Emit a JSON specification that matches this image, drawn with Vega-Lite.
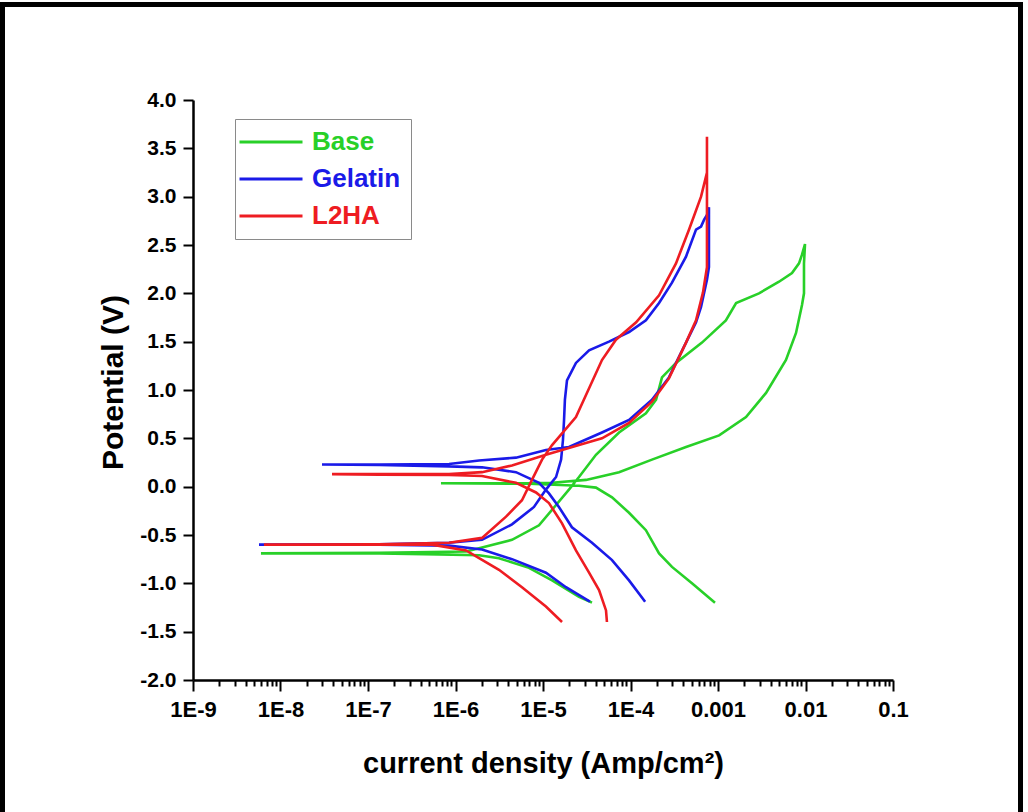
{
  "$schema": "https://vega.github.io/schema/vega-lite/v6.json",
  "width": 700,
  "height": 580,
  "autosize": {"type": "none"},
  "padding": {"left": 193, "top": 100, "right": 135, "bottom": 132},
  "background": "white",
  "config": {"view": {"stroke": null}},
  "data": {"values": [
    {"s":"Base","i":1,"x":3.63e-5,"y":-1.20},
    {"s":"Base","i":2,"x":2.58e-5,"y":-1.14},
    {"s":"Base","i":3,"x":1.27e-5,"y":-0.97},
    {"s":"Base","i":4,"x":6.92e-6,"y":-0.84},
    {"s":"Base","i":5,"x":3.14e-6,"y":-0.74},
    {"s":"Base","i":6,"x":1.86e-6,"y":-0.71},
    {"s":"Base","i":7,"x":6.48e-7,"y":-0.70},
    {"s":"Base","i":8,"x":1.34e-7,"y":-0.69},
    {"s":"Base","i":9,"x":1.63e-8,"y":-0.69},
    {"s":"Base","i":10,"x":5.98e-9,"y":-0.69},
    {"s":"Base","i":11,"x":1.34e-7,"y":-0.685},
    {"s":"Base","i":12,"x":1.32e-6,"y":-0.67},
    {"s":"Base","i":13,"x":2.01e-6,"y":-0.63},
    {"s":"Base","i":14,"x":4.42e-6,"y":-0.55},
    {"s":"Base","i":15,"x":9.0e-6,"y":-0.40},
    {"s":"Base","i":16,"x":1.41e-5,"y":-0.19},
    {"s":"Base","i":17,"x":1.98e-5,"y":-0.03},
    {"s":"Base","i":18,"x":2.58e-5,"y":0.10},
    {"s":"Base","i":19,"x":4.03e-5,"y":0.33},
    {"s":"Base","i":20,"x":7.40e-5,"y":0.56},
    {"s":"Base","i":21,"x":1.50e-4,"y":0.76},
    {"s":"Base","i":22,"x":1.96e-4,"y":0.90},
    {"s":"Base","i":23,"x":2.29e-4,"y":1.13},
    {"s":"Base","i":24,"x":3.31e-4,"y":1.28},
    {"s":"Base","i":25,"x":6.56e-4,"y":1.49},
    {"s":"Base","i":26,"x":1.23e-3,"y":1.72},
    {"s":"Base","i":27,"x":1.61e-3,"y":1.90},
    {"s":"Base","i":28,"x":2.94e-3,"y":2.00},
    {"s":"Base","i":29,"x":4.98e-3,"y":2.12},
    {"s":"Base","i":30,"x":7.01e-3,"y":2.21},
    {"s":"Base","i":31,"x":8.43e-3,"y":2.31},
    {"s":"Base","i":32,"x":9.12e-3,"y":2.40},
    {"s":"Base","i":33,"x":9.87e-3,"y":2.51},
    {"s":"Base","i":34,"x":9.61e-3,"y":2.31},
    {"s":"Base","i":35,"x":9.61e-3,"y":2.00},
    {"s":"Base","i":36,"x":9.12e-3,"y":1.88},
    {"s":"Base","i":37,"x":7.79e-3,"y":1.59},
    {"s":"Base","i":38,"x":5.98e-3,"y":1.31},
    {"s":"Base","i":39,"x":3.54e-3,"y":0.97},
    {"s":"Base","i":40,"x":2.09e-3,"y":0.72},
    {"s":"Base","i":41,"x":1.03e-3,"y":0.53},
    {"s":"Base","i":42,"x":4.31e-4,"y":0.41},
    {"s":"Base","i":43,"x":1.76e-4,"y":0.28},
    {"s":"Base","i":44,"x":7.40e-5,"y":0.15},
    {"s":"Base","i":45,"x":3.10e-5,"y":0.07},
    {"s":"Base","i":46,"x":1.27e-5,"y":0.04},
    {"s":"Base","i":47,"x":6.92e-6,"y":0.035},
    {"s":"Base","i":48,"x":6.82e-7,"y":0.035},
    {"s":"Base","i":49,"x":6.92e-6,"y":0.03},
    {"s":"Base","i":50,"x":2.58e-5,"y":0.01},
    {"s":"Base","i":51,"x":4.03e-5,"y":-0.01},
    {"s":"Base","i":52,"x":6.15e-5,"y":-0.11},
    {"s":"Base","i":53,"x":9.62e-5,"y":-0.27},
    {"s":"Base","i":54,"x":1.50e-4,"y":-0.45},
    {"s":"Base","i":55,"x":2.12e-4,"y":-0.69},
    {"s":"Base","i":56,"x":2.98e-4,"y":-0.83},
    {"s":"Base","i":57,"x":5.04e-4,"y":-1.00},
    {"s":"Base","i":58,"x":9.24e-4,"y":-1.20},

    {"s":"Gelatin","i":1,"x":3.44e-5,"y":-1.19},
    {"s":"Gelatin","i":2,"x":1.83e-5,"y":-1.04},
    {"s":"Gelatin","i":3,"x":1.08e-5,"y":-0.89},
    {"s":"Gelatin","i":4,"x":4.42e-6,"y":-0.75},
    {"s":"Gelatin","i":5,"x":2.01e-6,"y":-0.65},
    {"s":"Gelatin","i":6,"x":8.43e-7,"y":-0.61},
    {"s":"Gelatin","i":7,"x":1.34e-7,"y":-0.60},
    {"s":"Gelatin","i":8,"x":1.63e-8,"y":-0.60},
    {"s":"Gelatin","i":9,"x":5.68e-9,"y":-0.60},
    {"s":"Gelatin","i":10,"x":1.34e-7,"y":-0.595},
    {"s":"Gelatin","i":11,"x":8.43e-7,"y":-0.58},
    {"s":"Gelatin","i":12,"x":2.01e-6,"y":-0.55},
    {"s":"Gelatin","i":13,"x":4.42e-6,"y":-0.39},
    {"s":"Gelatin","i":14,"x":7.89e-6,"y":-0.21},
    {"s":"Gelatin","i":15,"x":1.08e-5,"y":-0.03},
    {"s":"Gelatin","i":16,"x":1.41e-5,"y":0.10},
    {"s":"Gelatin","i":17,"x":1.61e-5,"y":0.28},
    {"s":"Gelatin","i":18,"x":1.69e-5,"y":0.48},
    {"s":"Gelatin","i":19,"x":1.74e-5,"y":0.69},
    {"s":"Gelatin","i":20,"x":1.78e-5,"y":0.90},
    {"s":"Gelatin","i":21,"x":1.88e-5,"y":1.10},
    {"s":"Gelatin","i":22,"x":2.38e-5,"y":1.28},
    {"s":"Gelatin","i":23,"x":3.36e-5,"y":1.41},
    {"s":"Gelatin","i":24,"x":5.68e-5,"y":1.50},
    {"s":"Gelatin","i":25,"x":9.62e-5,"y":1.60},
    {"s":"Gelatin","i":26,"x":1.50e-4,"y":1.72},
    {"s":"Gelatin","i":27,"x":2.12e-4,"y":1.90},
    {"s":"Gelatin","i":28,"x":2.98e-4,"y":2.11},
    {"s":"Gelatin","i":29,"x":4.31e-4,"y":2.38},
    {"s":"Gelatin","i":30,"x":5.61e-4,"y":2.66},
    {"s":"Gelatin","i":31,"x":6.40e-4,"y":2.69},
    {"s":"Gelatin","i":32,"x":6.92e-4,"y":2.76},
    {"s":"Gelatin","i":33,"x":7.48e-4,"y":2.81},
    {"s":"Gelatin","i":34,"x":7.88e-4,"y":2.89},
    {"s":"Gelatin","i":35,"x":7.88e-4,"y":2.27},
    {"s":"Gelatin","i":36,"x":7.48e-4,"y":2.14},
    {"s":"Gelatin","i":37,"x":6.40e-4,"y":1.86},
    {"s":"Gelatin","i":38,"x":5.61e-4,"y":1.70},
    {"s":"Gelatin","i":39,"x":4.31e-4,"y":1.49},
    {"s":"Gelatin","i":40,"x":2.75e-4,"y":1.13},
    {"s":"Gelatin","i":41,"x":1.76e-4,"y":0.90},
    {"s":"Gelatin","i":42,"x":9.62e-5,"y":0.69},
    {"s":"Gelatin","i":43,"x":4.72e-5,"y":0.56},
    {"s":"Gelatin","i":44,"x":1.98e-5,"y":0.41},
    {"s":"Gelatin","i":45,"x":1.08e-5,"y":0.38},
    {"s":"Gelatin","i":46,"x":4.91e-6,"y":0.30},
    {"s":"Gelatin","i":47,"x":1.86e-6,"y":0.27},
    {"s":"Gelatin","i":48,"x":8.43e-7,"y":0.235},
    {"s":"Gelatin","i":49,"x":1.34e-7,"y":0.23},
    {"s":"Gelatin","i":50,"x":2.98e-8,"y":0.23},
    {"s":"Gelatin","i":51,"x":1.34e-7,"y":0.225},
    {"s":"Gelatin","i":52,"x":8.43e-7,"y":0.21},
    {"s":"Gelatin","i":53,"x":2.01e-6,"y":0.20},
    {"s":"Gelatin","i":54,"x":4.91e-6,"y":0.15},
    {"s":"Gelatin","i":55,"x":9.0e-6,"y":0.04},
    {"s":"Gelatin","i":56,"x":1.17e-5,"y":-0.07},
    {"s":"Gelatin","i":57,"x":1.52e-5,"y":-0.21},
    {"s":"Gelatin","i":58,"x":2.14e-5,"y":-0.42},
    {"s":"Gelatin","i":59,"x":3.63e-5,"y":-0.58},
    {"s":"Gelatin","i":60,"x":6.15e-5,"y":-0.76},
    {"s":"Gelatin","i":61,"x":9.62e-5,"y":-0.97},
    {"s":"Gelatin","i":62,"x":1.47e-4,"y":-1.19},

    {"s":"L2HA","i":1,"x":1.65e-5,"y":-1.40},
    {"s":"L2HA","i":2,"x":1.08e-5,"y":-1.24},
    {"s":"L2HA","i":3,"x":5.75e-6,"y":-1.04},
    {"s":"L2HA","i":4,"x":3.14e-6,"y":-0.86},
    {"s":"L2HA","i":5,"x":1.86e-6,"y":-0.74},
    {"s":"L2HA","i":6,"x":1.32e-6,"y":-0.66},
    {"s":"L2HA","i":7,"x":5.38e-7,"y":-0.60},
    {"s":"L2HA","i":8,"x":1.34e-7,"y":-0.60},
    {"s":"L2HA","i":9,"x":1.63e-8,"y":-0.60},
    {"s":"L2HA","i":10,"x":6.47e-9,"y":-0.60},
    {"s":"L2HA","i":11,"x":1.34e-7,"y":-0.595},
    {"s":"L2HA","i":12,"x":8.43e-7,"y":-0.58},
    {"s":"L2HA","i":13,"x":2.01e-6,"y":-0.53},
    {"s":"L2HA","i":14,"x":3.78e-6,"y":-0.31},
    {"s":"L2HA","i":15,"x":5.75e-6,"y":-0.14},
    {"s":"L2HA","i":16,"x":7.48e-6,"y":0.07},
    {"s":"L2HA","i":17,"x":9.75e-6,"y":0.28},
    {"s":"L2HA","i":18,"x":1.27e-5,"y":0.43},
    {"s":"L2HA","i":19,"x":2.38e-5,"y":0.72},
    {"s":"L2HA","i":20,"x":4.72e-5,"y":1.31},
    {"s":"L2HA","i":21,"x":6.82e-5,"y":1.52},
    {"s":"L2HA","i":22,"x":1.16e-4,"y":1.70},
    {"s":"L2HA","i":23,"x":2.12e-4,"y":1.98},
    {"s":"L2HA","i":24,"x":3.31e-4,"y":2.31},
    {"s":"L2HA","i":25,"x":4.67e-4,"y":2.66},
    {"s":"L2HA","i":26,"x":6.40e-4,"y":3.00},
    {"s":"L2HA","i":27,"x":7.48e-4,"y":3.25},
    {"s":"L2HA","i":28,"x":7.48e-4,"y":3.62},
    {"s":"L2HA","i":29,"x":7.48e-4,"y":2.27},
    {"s":"L2HA","i":30,"x":6.74e-4,"y":2.01},
    {"s":"L2HA","i":31,"x":5.61e-4,"y":1.72},
    {"s":"L2HA","i":32,"x":4.31e-4,"y":1.49},
    {"s":"L2HA","i":33,"x":2.75e-4,"y":1.12},
    {"s":"L2HA","i":34,"x":1.76e-4,"y":0.88},
    {"s":"L2HA","i":35,"x":9.62e-5,"y":0.66},
    {"s":"L2HA","i":36,"x":4.72e-5,"y":0.50},
    {"s":"L2HA","i":37,"x":2.58e-5,"y":0.43},
    {"s":"L2HA","i":38,"x":1.08e-5,"y":0.33},
    {"s":"L2HA","i":39,"x":4.42e-6,"y":0.22},
    {"s":"L2HA","i":40,"x":2.01e-6,"y":0.15},
    {"s":"L2HA","i":41,"x":8.43e-7,"y":0.13},
    {"s":"L2HA","i":42,"x":1.34e-7,"y":0.13},
    {"s":"L2HA","i":43,"x":3.88e-8,"y":0.13},
    {"s":"L2HA","i":44,"x":1.34e-7,"y":0.125},
    {"s":"L2HA","i":45,"x":8.43e-7,"y":0.12},
    {"s":"L2HA","i":46,"x":2.01e-6,"y":0.11},
    {"s":"L2HA","i":47,"x":4.91e-6,"y":0.04},
    {"s":"L2HA","i":48,"x":8.32e-6,"y":-0.06},
    {"s":"L2HA","i":49,"x":1.17e-5,"y":-0.17},
    {"s":"L2HA","i":50,"x":1.65e-5,"y":-0.38},
    {"s":"L2HA","i":51,"x":2.38e-5,"y":-0.66},
    {"s":"L2HA","i":52,"x":3.36e-5,"y":-0.89},
    {"s":"L2HA","i":53,"x":4.37e-5,"y":-1.07},
    {"s":"L2HA","i":54,"x":5.25e-5,"y":-1.28},
    {"s":"L2HA","i":55,"x":5.38e-5,"y":-1.40}
  ]},
  "layer": [
    {
      "mark": {"type": "line", "strokeWidth": 2.6, "interpolate": "linear"},
      "encoding": {
        "x": {
          "field": "x", "type": "quantitative",
          "scale": {"type": "log", "domain": [1e-9, 0.1], "nice": false},
          "axis": {
            "values": [1e-9,2e-9,3e-9,4e-9,5e-9,6e-9,7e-9,8e-9,9e-9,1e-8,2e-8,3e-8,4e-8,5e-8,6e-8,7e-8,8e-8,9e-8,1e-7,2e-7,3e-7,4e-7,5e-7,6e-7,7e-7,8e-7,9e-7,1e-6,2e-6,3e-6,4e-6,5e-6,6e-6,7e-6,8e-6,9e-6,1e-5,2e-5,3e-5,4e-5,5e-5,6e-5,7e-5,8e-5,9e-5,1e-4,2e-4,3e-4,4e-4,5e-4,6e-4,7e-4,8e-4,9e-4,0.001,0.002,0.003,0.004,0.005,0.006,0.007,0.008,0.009,0.01,0.02,0.03,0.04,0.05,0.06,0.07,0.08,0.09,0.1],
            "labelExpr": "abs(log(datum.value)/LN10 - round(log(datum.value)/LN10)) > 0.01 ? '' : (datum.value < 0.0005 ? '1E' + round(log(datum.value)/LN10) : (datum.value < 0.005 ? '0.001' : (datum.value < 0.05 ? '0.01' : '0.1')))",
            "labelOverlap": false,
            "labelFlush": false,
            "labelFont": "Liberation Sans",
            "labelFontSize": 22,
            "labelFontWeight": "bold",
            "labelColor": "black",
            "labelPadding": 8,
            "tickColor": "black",
            "tickWidth": 2,
            "tickSize": {"condition": {"test": "abs(log(datum.value)/LN10 - round(log(datum.value)/LN10)) < 0.01", "value": 11}, "value": 6},
            "domainColor": "black",
            "domainWidth": 2.5,
            "grid": false,
            "title": "current density (Amp/cm²)",
            "titleFont": "Liberation Sans",
            "titleFontSize": 29,
            "titleFontWeight": "bold",
            "titleColor": "black",
            "titleY": 92,
            "titleBaseline": "alphabetic"
          }
        },
        "y": {
          "field": "y", "type": "quantitative",
          "scale": {"domain": [-2, 4], "nice": false, "zero": false},
          "axis": {
            "values": [-2,-1.75,-1.5,-1.25,-1,-0.75,-0.5,-0.25,0,0.25,0.5,0.75,1,1.25,1.5,1.75,2,2.25,2.5,2.75,3,3.25,3.5,3.75,4],
            "labelExpr": "abs(datum.value*2 - round(datum.value*2)) > 0.01 ? '' : (datum.value < 0 ? '-' : '') + format(abs(datum.value), '.1f')",
            "labelOverlap": false,
            "labelFlush": false,
            "labelFont": "Liberation Sans",
            "labelFontSize": 21,
            "labelFontWeight": "bold",
            "labelColor": "black",
            "labelPadding": 7,
            "tickColor": "black",
            "tickWidth": 2,
            "tickSize": {"condition": {"test": "abs(datum.value*2 - round(datum.value*2)) < 0.01", "value": 10}, "value": 5},
            "domainColor": "black",
            "domainWidth": 2.5,
            "grid": false,
            "title": "Potential (V)",
            "titleFont": "Liberation Sans",
            "titleFontSize": 30,
            "titleFontWeight": "bold",
            "titleColor": "black",
            "titleX": -71,
            "titleY": 282,
            "titleAngle": -90,
            "titleBaseline": "alphabetic"
          }
        },
        "order": {"field": "i", "type": "quantitative"},
        "color": {
          "field": "s", "type": "nominal",
          "scale": {"domain": ["Base", "Gelatin", "L2HA"], "range": ["#28d028", "#1a1ae8", "#ee1c22"]},
          "legend": {
            "orient": "none",
            "legendX": 42,
            "legendY": 19,
            "title": null,
            "symbolType": "M-3,0H3",
            "symbolSize": 441,
            "symbolStrokeWidth": 3,
            "symbolOffset": 13,
            "labelOffset": 28,
            "labelFont": "Liberation Sans",
            "labelFontSize": 26,
            "labelFontWeight": "bold",
            "rowPadding": 11,
            "padding": 10,
            "strokeColor": "#8a8a8a",
            "encode": {"labels": {"update": {"fill": {"scale": "color", "field": "value"}}}}
          }
        }
      }
    },
    {
      "mark": {"type": "rect", "filled": false, "stroke": "black", "strokeWidth": 4, "clip": false},
      "encoding": {
        "x": {"datum": 6.7e-12, "type": "quantitative"},
        "x2": {"datum": 2.9},
        "y": {"datum": 4.99, "type": "quantitative"},
        "y2": {"datum": -3.5}
      }
    }
  ]
}
